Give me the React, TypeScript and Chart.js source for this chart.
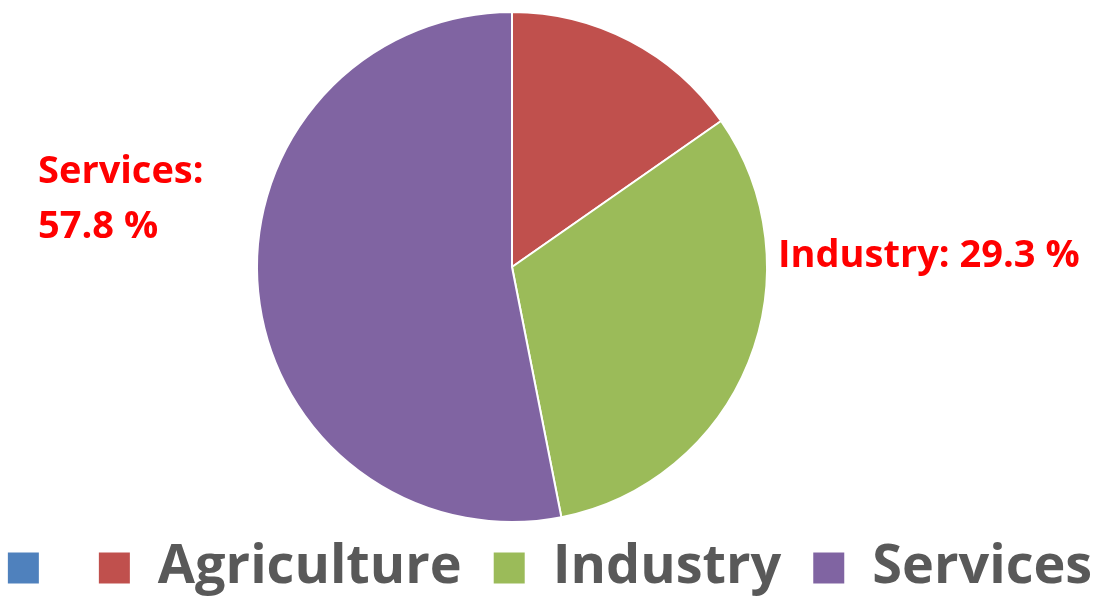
import React, { useEffect, useRef } from "react";
import { Chart, registerables } from "chart.js";

Chart.register(...registerables);

const categories = ["", "Agriculture", "Industry", "Services"];
const sliceValues = [0, 15.3, 31.6, 53.1];
const labelValues: (number | null)[] = [null, null, 29.3, 57.8];
const labelNames = ["", "Agriculture", "Industry", "Services"];
const sliceColors = ["#4F81BD", "#C0504D", "#9BBB59", "#8064A2"];

const FONT = "'Open Sans', Lato, sans-serif";

// Plot area (like Excel's plot area box)
const PLOT_CENTER_X = 512;
const PLOT_TOP = 11;
const PLOT_SIZE = 512;

const plotArea = {
  id: "plotArea",
  afterLayout(chart: any) {
    const a = chart.chartArea;
    a.left = PLOT_CENTER_X - PLOT_SIZE / 2;
    a.right = PLOT_CENTER_X + PLOT_SIZE / 2;
    a.top = PLOT_TOP;
    a.bottom = PLOT_TOP + PLOT_SIZE;
    a.width = a.right - a.left;
    a.height = a.bottom - a.top;
  },
};

const dataLabels = {
  id: "dataLabels",
  afterDatasetsDraw(chart: any) {
    const ctx = chart.ctx;
    const meta = chart.getDatasetMeta(0);
    ctx.save();
    ctx.fillStyle = "#FF0000";
    ctx.font = `bold 38px ${FONT}`;
    ctx.textBaseline = "alphabetic";
    ctx.textAlign = "left";
    meta.data.forEach((arc: any, i: number) => {
      const v = labelValues[i];
      if (v == null) return;
      const { x, y, outerRadius } = arc.getProps(["x", "y", "outerRadius"], true);
      if (labelNames[i] === "Industry") {
        ctx.fillText(`${labelNames[i]}: ${v.toFixed(1)} %`, x + outerRadius + 11, y);
      } else if (labelNames[i] === "Services") {
        const lx = x - outerRadius - 219;
        ctx.fillText(`${labelNames[i]}:`, lx, y - 84);
        ctx.fillText(`${v.toFixed(1)} %`, lx, y - 29);
      }
    });
    ctx.restore();
  },
};

export default function App() {
  const ref = useRef<HTMLCanvasElement>(null);
  useEffect(() => {
    if (!ref.current) return;
    const chart = new Chart(ref.current, {
      type: "pie",
      data: {
        labels: categories,
        datasets: [
          {
            data: sliceValues,
            backgroundColor: sliceColors,
            borderColor: "#FFFFFF",
            borderWidth: 2,
          },
        ],
      },
      options: {
        animation: false,
        responsive: false,
        devicePixelRatio: 1,
        layout: { padding: { top: 0, left: -40, right: -40, bottom: -8 } },
        plugins: {
          legend: {
            position: "bottom",
            labels: {
              boxWidth: 33,
              boxHeight: 33,
              padding: 31,
              color: "#595959",
              font: { family: FONT, weight: "bold", size: 54 },
            },
          },
          tooltip: { enabled: false },
        },
      },
      plugins: [plotArea, dataLabels],
    });
    return () => chart.destroy();
  }, []);
  return (
    <div style={{ position: "fixed", left: 0, top: 0, width: 1099, height: 597, background: "#fff" }}>
      <canvas ref={ref} width={1099} height={597} style={{ display: "block" }} />
    </div>
  );
}
